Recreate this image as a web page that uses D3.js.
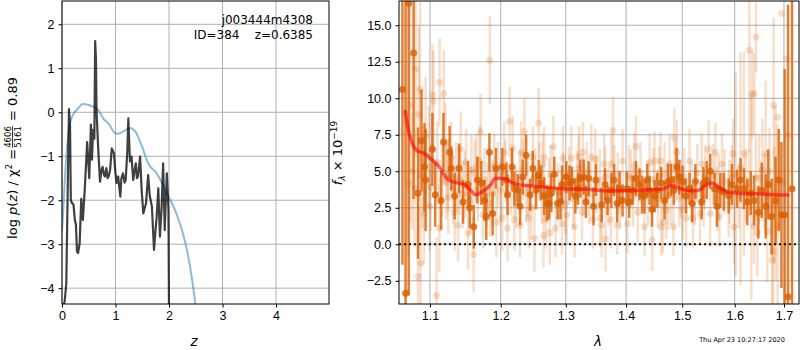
<!DOCTYPE html>
<html>
<head>
<meta charset="utf-8">
<title>zfit</title>
<script src="https://cdn.jsdelivr.net/npm/d3@7"></script>
<style>
  body { margin: 0; background: #fff; }
  svg { display: block; font-family: "DejaVu Sans", sans-serif; }
  .grid line { stroke: #b0b0b0; stroke-width: 1; }
  .tick text { font-size: 12.5px; fill: #000; }
  .tick line { stroke: #000; }
  .domain { display: none; }
</style>
</head>
<body>
<script>
// ---- left panel: p(z) ----
const pzZ = [0.03,0.05,0.08,0.11,0.13,0.15,0.165,0.19,0.215,0.24,0.26,0.28,0.30,0.33,0.36,0.39,0.43,0.47,0.51,0.54,0.56,0.58,0.605,0.62,0.635,0.645,0.675,0.71,0.74,0.76,0.78,0.80,0.83,0.85,0.875,0.90,0.93,0.97,1.00,1.02,1.05,1.07,1.09,1.11,1.14,1.17,1.19,1.22,1.24,1.27,1.30,1.33,1.36,1.38,1.40,1.42,1.46,1.49,1.52,1.57,1.61,1.64,1.68,1.72,1.74,1.77,1.80,1.83,1.86,1.89,1.92,1.94,1.96,1.99,2.00];
const pzLog = [-4.4,-4.3,-3.9,-1.5,0.07,-0.3,-2.0,-2.07,-2.1,-2.45,-2.55,-3.17,-3.2,-2.98,-1.97,-2.45,-1.65,-0.68,-1.5,-0.28,-1.08,-0.4,-0.6,1.62,1.2,0.05,-0.78,-1.58,-1.3,-1.24,-1.4,-1.46,-1.27,-1.5,-1.45,-1.3,-0.82,-0.93,-1.4,-1.61,-1.46,-1.7,-1.92,-1.5,-1.39,-1.6,-1.54,-0.9,-0.14,-1.12,-1.01,-1.54,-1.3,-1.16,-1.5,-1.46,-1.01,-1.8,-2.3,-2.07,-1.43,-1.9,-2.14,-3.13,-2.8,-2.37,-1.73,-2.83,-2.22,-1.16,-2.68,-2.0,-1.39,-2.22,-4.6];
const chiZ = [0.0,0.02,0.05,0.08,0.12,0.16,0.21,0.30,0.39,0.49,0.61,0.68,0.77,0.89,0.95,1.02,1.11,1.20,1.27,1.36,1.49,1.61,1.77,1.96,2.11,2.24,2.36,2.49,2.55];
const chiLog = [-2.7,-2.3,-1.6,-1.0,-0.5,-0.2,-0.05,0.09,0.19,0.17,0.11,0.05,-0.14,-0.29,-0.42,-0.49,-0.46,-0.40,-0.36,-0.42,-0.76,-1.16,-1.39,-1.84,-2.22,-2.67,-3.28,-4.34,-5.0];
const zTicks = [0, 1, 2, 3, 4];
const pzTicks = [-4, -3, -2, -1, 0, 1, 2];

// ---- right panel: spectrum ----
const darkWave = [1.0634,1.0675,1.0716,1.0781,1.084,1.0886,1.0927,1.0941,1.1033,1.1071,1.1151,1.1184,1.1269,1.1293,1.1339,1.14,1.1457,1.1527,1.1551,1.1608,1.166,1.1717,1.1764,1.1788,1.1834,1.1881,1.1929,1.2024,1.2085,1.2101,1.2168,1.2203,1.2253,1.229,1.2329,1.2381,1.2442,1.2482,1.2533,1.2573,1.261,1.266,1.2701,1.2736,1.2771,1.2817,1.2869,1.2915,1.2939,1.3007,1.306,1.3098,1.3153,1.3195,1.3235,1.3288,1.3326,1.337,1.3451,1.3489,1.3586,1.3642,1.3684,1.3749,1.3793,1.3847,1.3886,1.394,1.4011,1.4054,1.4113,1.4171,1.4232,1.4279,1.4321,1.4368,1.4411,1.4452,1.45,1.4546,1.4618,1.4679,1.4738,1.4797,1.4845,1.4898,1.4946,1.5006,1.507,1.5136,1.5187,1.5246,1.5363,1.5396,1.546,1.5526,1.561,1.5655,1.5721,1.5786,1.5883,1.5947,1.6047,1.6116,1.6183,1.625,1.6319,1.6385,1.6473,1.6541,1.6622,1.6675,1.6744,1.6825,1.6892,1.6947,1.7015,1.7085,1.717];
const darkFlux = [10.6,-3.36,16.5,13.1,3.5,7.1,5.3,4.4,6.5,3.4,3.0,7.0,6.3,5.2,3.3,5.2,2.9,4.1,2.5,1.2,4.4,4.2,3.0,1.9,6.3,2.1,5.2,5.3,4.4,3.4,5.3,3.8,3.7,2.6,4.6,6.1,3.4,5.2,3.7,4.7,4.2,3.3,2.8,2.8,3.5,4.8,2.8,2.9,4.1,4.6,4.2,4.3,3.3,3.8,4.5,4.6,2.9,4.5,2.6,4.4,2.7,4.1,3.0,3.7,4.4,2.8,3.8,3.0,3.8,2.9,3.7,4.5,4.1,3.4,3.3,4.4,3.7,2.4,3.3,3.7,4.2,3.0,4.3,4.4,3.7,5.3,4.6,4.3,3.3,3.8,2.8,4.3,2.9,4.2,4.4,5.0,3.8,2.6,3.7,3.6,3.3,4.1,3.8,4.4,3.8,2.9,3.5,3.0,2.2,3.7,2.6,4.1,1.9,3.0,4.4,2.0,2.0,-3.6,3.8];
const darkErr = [12,20,20,10,4.5,3.5,3,3.5,2.5,2.2,2,2,1.8,1.5,1.6,1.7,1.5,1.6,1.4,1.5,1.6,1.5,1.4,1.6,1.3,1.5,1.4,1.3,1.2,1.4,1.3,1.2,1.1,1.3,1.2,1.4,1.1,1.2,1.3,1.1,1.2,1.3,1.2,1.1,1.3,1.2,1.1,1.2,1.3,1.1,1.2,1.0,1.2,1.1,1.3,1.2,1.1,1.2,1.3,1.1,1.2,1.1,1.0,1.2,1.1,1.3,1.2,1.1,1.2,1.1,1.0,1.2,1.1,1.3,1.2,1.1,1.0,1.2,1.1,1.2,1.1,1.3,1.2,1.1,1.0,1.3,1.2,1.1,1.2,1.1,1.3,1.2,1.2,1.1,1.3,1.2,1.1,1.4,1.2,1.3,1.2,1.4,1.3,1.5,1.4,1.6,1.5,1.7,1.8,1.9,2.2,2.4,2.6,3.0,3.5,5,10,20,13];

const lightWave = [1.0713,1.0736,1.0765,1.0795,1.0808,1.084,1.0849,1.0866,1.0873,1.09,1.0918,1.0941,1.0986,1.0996,1.101,1.1033,1.1047,1.1089,1.11,1.1127,1.1131,1.1165,1.1188,1.1212,1.1222,1.1245,1.125,1.129,1.1315,1.1339,1.136,1.1386,1.141,1.1424,1.145,1.1481,1.15,1.1527,1.156,1.1575,1.1608,1.162,1.1646,1.1669,1.1693,1.1707,1.174,1.176,1.1796,1.1834,1.1839,1.1844,1.188,1.1905,1.1937,1.196,1.2,1.2024,1.205,1.207,1.2101,1.2131,1.215,1.2177,1.2203,1.223,1.2279,1.229,1.2305,1.233,1.2355,1.238,1.2406,1.2421,1.2457,1.2482,1.2508,1.252,1.2573,1.2584,1.262,1.2634,1.2649,1.266,1.2686,1.2736,1.2747,1.276,1.2802,1.2838,1.288,1.2939,1.2954,1.2962,1.2991,1.3016,1.305,1.3088,1.312,1.3141,1.318,1.3207,1.3212,1.3261,1.3277,1.3288,1.3342,1.338,1.3414,1.344,1.3479,1.35,1.3555,1.356,1.3586,1.3629,1.3642,1.3651,1.37,1.3739,1.3748,1.3777,1.38,1.3847,1.3858,1.39,1.394,1.4023,1.405,1.4082,1.412,1.4143,1.4171,1.4202,1.425,1.4321,1.438,1.4411,1.4457,1.448,1.45,1.4557,1.458,1.4607,1.4618,1.4648,1.468,1.4708,1.4738,1.4768,1.479,1.4839,1.4857,1.488,1.4903,1.495,1.4975,1.5006,1.504,1.507,1.5136,1.517,1.5201,1.5234,1.528,1.5331,1.5363,1.54,1.5429,1.5495,1.5526,1.558,1.5626,1.566,1.5689,1.5702,1.5753,1.58,1.5883,1.59,1.5947,1.5969,1.5983,1.602,1.608,1.6116,1.6183,1.622,1.6285,1.629,1.633,1.6345,1.6385,1.6392,1.642,1.6426,1.6452,1.6487,1.6554,1.66,1.6622,1.6655,1.67,1.6753,1.6775,1.6786,1.68,1.6825,1.6868,1.6878,1.6947,1.698,1.7055,1.7099];
const lightFlux = [4.2,9.5,5.0,3.8,12.0,-2.2,8.9,10.6,-1.3,4.6,2.1,7.4,6.0,2.6,3.9,10.2,9.8,-3.5,5.6,1.1,11.1,4.4,10.3,6.9,4.2,4.7,3.2,5.9,3.8,2.2,4.6,1.3,4.4,6.5,3.4,4.1,5.6,0.75,3.0,5.1,-0.7,4.9,5.3,3.8,5.7,7.7,2.0,4.4,3.4,3.9,12.6,2.8,3.5,5.4,1.5,4.8,3.7,1.8,6.3,5.0,1.1,8.4,4.1,6.6,1.7,3.2,4.4,1.3,6.3,5.1,7.7,3.5,3.9,1.8,2.5,6.0,0.4,4.6,8.3,5.0,3.4,5.5,0.6,5.95,1.7,3.9,0.8,4.8,6.7,1.1,3.6,1.4,5.9,4.3,2.8,2.0,4.7,5.9,3.1,1.2,4.4,5.2,6.0,2.2,6.3,3.9,4.9,3.4,6.0,1.7,5.8,4.1,4.4,1.8,1.3,5.5,4.6,0.35,3.3,1.7,5.5,7.8,4.8,1.3,4.2,3.0,5.7,1.4,4.7,4.5,3.2,5.4,6.7,2.2,4.9,1.2,3.5,5.6,0.3,4.4,5.7,3.1,4.6,5.7,1.2,1.5,4.8,2.35,3.3,5.5,3.4,1.2,7.3,5.0,6.3,3.2,3.8,2.35,4.6,1.8,5.7,3.6,1.8,3.3,4.9,2.1,5.5,3.2,4.6,6.5,2.1,4.8,6.3,3.1,3.9,1.9,5.5,4.3,2.8,3.6,4.6,6.2,1.2,4.8,3.3,5.2,6.2,4.0,4.2,13.3,3.2,10.3,1.25,10.3,4.6,14.2,0.8,4.5,5.1,3.6,6.2,0.9,5.0,-1.1,-0.5,9.5,2.7,3.5,1.2,8.7,15.8,4.3,12.7,7.5];
const lightErr = [5,8,4,4,6,5,6,6,4.5,3.5,3.5,4,3.5,3,3,3.5,3.5,4,2.8,3,3,2.5,3,2.8,2.5,2.5,2.5,2.5,2.4,2.6,2.4,2.5,2.4,2.6,2.3,2.3,2.3,2.5,2.3,2.4,2.6,2.2,2.3,2.2,2.4,2.6,2.3,2.2,2.2,2.2,3,2.3,2.3,2.2,2.4,2.2,2.2,2.2,2.1,2.1,2.3,2.4,2.1,2.2,2.1,2.1,2,2.2,2.1,2.1,2.3,2,2,2.1,2.2,2.1,2.3,2,2.4,2,2,2.1,2.2,2.1,2,2,2.2,2,2.1,2,2,2.1,2.2,2,2.1,2,2,2.2,2,2.1,2,2.2,2.1,2,2.1,2,2.1,2,2.2,2,2.1,2,2.1,2,2.2,2,2.1,2.2,2,2,2.1,2.3,2,2,2.1,2,2.2,2,2.1,2,2,2.2,2.1,2,2.1,2,2.2,2,2.1,2.2,2,2,2.1,2,2,2.1,2.2,2,2.3,2,2.1,2,2,2.1,2.2,2,2,2.1,2,2,2.2,2,2.1,2,2,2.2,2.1,2,2.2,2,2.3,2.1,2,2.2,2.3,2.1,2.1,2.2,2.3,2.2,2.2,2.4,2.5,7,2.2,8,7,2.5,2.3,7,7,3,2.6,2.8,3,2.4,3,3,3.5,2.6,5,3.5,3,4,5,6,4,6,7];

const modelWave = [1.0671,1.0703,1.0749,1.0818,1.0932,1.1,1.1141,1.1212,1.1307,1.1471,1.1566,1.1636,1.1731,1.1848,1.1919,1.204,1.2142,1.2244,1.2447,1.27,1.2954,1.333,1.3658,1.3928,1.4339,1.4636,1.4786,1.4904,1.5123,1.5285,1.5449,1.5566,1.5675,1.5839,1.6101,1.6507,1.6845,1.7085];
const modelFlux = [9.1,8.05,7.1,6.45,6.2,5.9,5.2,4.6,4.3,4.1,3.7,3.4,3.6,4.05,4.5,4.5,4.3,4.1,4.0,3.9,3.8,3.77,3.67,3.67,3.72,3.77,4.0,3.9,3.67,3.67,4.06,4.2,3.95,3.6,3.5,3.45,3.38,3.38];
const waveTicks = [1.1, 1.2, 1.3, 1.4, 1.5, 1.6, 1.7];
const fluxTicks = [-2.5, 0, 2.5, 5, 7.5, 10, 12.5, 15];

const W = 800, H = 350;
const svg = d3.select("body").append("svg").attr("width", W).attr("height", H);
svg.append("rect").attr("width", W).attr("height", H).attr("fill", "#fff");

// ========== left panel ==========
const L = {x0: 62, x1: 329, y0: 1, y1: 304};
const zx = d3.scaleLinear().domain([0, 4.99]).range([L.x0, L.x1]);
const zy = d3.scaleLinear().domain([-4.36, 2.53]).range([L.y1, L.y0]);

svg.append("clipPath").attr("id", "clipL").append("rect")
    .attr("x", L.x0).attr("y", L.y0).attr("width", L.x1 - L.x0).attr("height", L.y1 - L.y0);

const gl = svg.append("g").attr("class", "grid");
gl.selectAll(".gx").data(zTicks).enter().append("line")
    .attr("x1", d => zx(d)).attr("x2", d => zx(d)).attr("y1", L.y0).attr("y2", L.y1);
gl.selectAll(".gy").data(pzTicks).enter().append("line")
    .attr("y1", d => zy(d)).attr("y2", d => zy(d)).attr("x1", L.x0).attr("x2", L.x1);

const lineL = svg.append("g").attr("clip-path", "url(#clipL)");
lineL.append("path")
    .datum(chiZ.map((z, i) => [z, chiLog[i]]))
    .attr("fill", "none").attr("stroke", "#1f77b4").attr("stroke-opacity", 0.5).attr("stroke-width", 2)
    .attr("d", d3.line().x(d => zx(d[0])).y(d => zy(d[1])).curve(d3.curveMonotoneX));
lineL.append("path")
    .datum(pzZ.map((z, i) => [z, pzLog[i]]))
    .attr("fill", "none").attr("stroke", "#000").attr("stroke-opacity", 0.75).attr("stroke-width", 2.2)
    .attr("stroke-linejoin", "round")
    .attr("d", d3.line().x(d => zx(d[0])).y(d => zy(d[1])));

svg.append("g").attr("transform", `translate(0,${L.y1})`)
    .call(d3.axisBottom(zx).tickValues(zTicks).tickFormat(d3.format("d")).tickSizeOuter(0).tickSize(3.5).tickPadding(4));
svg.append("g").attr("transform", `translate(${L.x0},0)`)
    .call(d3.axisLeft(zy).tickValues(pzTicks).tickFormat(d3.format("d")).tickSizeOuter(0).tickSize(3.5).tickPadding(4));
svg.append("rect").attr("x", L.x0).attr("y", L.y0).attr("width", L.x1 - L.x0).attr("height", L.y1 - L.y0)
    .attr("fill", "none").attr("stroke", "#000").attr("stroke-width", 1);

svg.append("text").attr("x", 313).attr("y", 24).attr("text-anchor", "end").attr("font-size", 12)
    .text("j003444m4308");
svg.append("text").attr("x", 313).attr("y", 39).attr("text-anchor", "end").attr("font-size", 12)
    .attr("xml:space", "preserve").style("white-space", "pre")
    .text("ID=384    z=0.6385");

svg.append("text").attr("x", zx(2.47)).attr("y", 346).attr("text-anchor", "middle")
    .attr("font-size", 13.5).attr("font-style", "italic").text("z");

// rotated y label with stacked fraction
const ylab = svg.append("g").attr("transform", "translate(17,158) rotate(-90)");
const t1 = ylab.append("text").attr("font-size", 13);
t1.append("tspan").text("log ");
t1.append("tspan").attr("font-style", "italic").text("p");
t1.append("tspan").text("(");
t1.append("tspan").attr("font-style", "italic").text("z");
t1.append("tspan").text(") / χ");
t1.append("tspan").attr("font-size", 9).attr("dy", -5).text("2");
t1.append("tspan").attr("dy", 5).text(" = ");
const w1 = t1.node().getComputedTextLength();
const num = ylab.append("text").attr("font-size", 8.5).attr("text-anchor", "middle").text("4606");
const den = ylab.append("text").attr("font-size", 8.5).attr("text-anchor", "middle").text("5161");
const wf = Math.max(num.node().getComputedTextLength(), den.node().getComputedTextLength());
const t3 = ylab.append("text").attr("font-size", 13).attr("xml:space", "preserve").text(" = 0.89");
const w3 = t3.node().getComputedTextLength();
const total = w1 + wf + 2 + w3;
const s = -total / 2;
t1.attr("x", s);
num.attr("x", s + w1 + wf / 2 + 1).attr("y", -6);
den.attr("x", s + w1 + wf / 2 + 1).attr("y", 4);
ylab.append("line").attr("x1", s + w1 + 1).attr("x2", s + w1 + wf + 1).attr("y1", -4.5).attr("y2", -4.5)
    .attr("stroke", "#000").attr("stroke-width", 0.8);
t3.attr("x", s + w1 + wf + 2);

// ========== right panel ==========
const R = {x0: 399, x1: 799, y0: 1, y1: 304};
const wx = d3.scaleLog().domain([1.0589, 1.7317]).range([R.x0, R.x1]);
const fy = d3.scaleLinear().domain([-4.09, 16.66]).range([R.y1, R.y0]);

svg.append("clipPath").attr("id", "clipR").append("rect")
    .attr("x", R.x0).attr("y", R.y0).attr("width", R.x1 - R.x0).attr("height", R.y1 - R.y0);

const gr = svg.append("g").attr("class", "grid");
gr.selectAll(".gx").data(waveTicks).enter().append("line")
    .attr("x1", d => wx(d)).attr("x2", d => wx(d)).attr("y1", R.y0).attr("y2", R.y1);
gr.selectAll(".gy").data(fluxTicks).enter().append("line")
    .attr("y1", d => fy(d)).attr("y2", d => fy(d)).attr("x1", R.x0).attr("x2", R.x1);

const plot = svg.append("g").attr("clip-path", "url(#clipR)");
const orange = "#d95f02";

const light = lightWave.map((w, i) => ({w, f: lightFlux[i], e: lightErr[i]}));
const dark = darkWave.map((w, i) => ({w, f: darkFlux[i], e: darkErr[i]}));

const lg = plot.append("g");
lg.selectAll("line").data(light).enter().append("line")
    .attr("x1", d => wx(d.w)).attr("x2", d => wx(d.w))
    .attr("y1", d => fy(d.f - d.e)).attr("y2", d => fy(d.f + d.e))
    .attr("stroke", orange).attr("stroke-opacity", 0.2).attr("stroke-width", 2.5);
lg.selectAll("circle").data(light).enter().append("circle")
    .attr("cx", d => wx(d.w)).attr("cy", d => fy(d.f)).attr("r", 3.5)
    .attr("fill", orange).attr("fill-opacity", 0.2);

const dg = plot.append("g");
dg.selectAll("line").data(dark).enter().append("line")
    .attr("x1", d => wx(d.w)).attr("x2", d => wx(d.w))
    .attr("y1", d => fy(d.f - d.e)).attr("y2", d => fy(d.f + d.e))
    .attr("stroke", orange).attr("stroke-opacity", 0.8).attr("stroke-width", 2.5);
dg.selectAll("circle").data(dark).enter().append("circle")
    .attr("cx", d => wx(d.w)).attr("cy", d => fy(d.f)).attr("r", 3.5)
    .attr("fill", orange).attr("fill-opacity", 0.8);

plot.append("line").attr("x1", R.x0).attr("x2", R.x1).attr("y1", fy(0)).attr("y2", fy(0))
    .attr("stroke", "#111").attr("stroke-width", 2).attr("stroke-dasharray", "2,3");

plot.append("path")
    .datum(modelWave.map((w, i) => [w, modelFlux[i]]))
    .attr("fill", "none").attr("stroke", "#ff0000").attr("stroke-opacity", 0.6).attr("stroke-width", 3.5)
    .attr("stroke-linecap", "round")
    .attr("d", d3.line().x(d => wx(d[0])).y(d => fy(d[1])).curve(d3.curveMonotoneX));

svg.append("g").attr("transform", `translate(0,${R.y1})`)
    .call(d3.axisBottom(wx).tickValues(waveTicks).tickFormat(d3.format(".1f")).tickSizeOuter(0).tickSize(3.5).tickPadding(4));
svg.append("g").attr("transform", `translate(${R.x0},0)`)
    .call(d3.axisLeft(fy).tickValues(fluxTicks).tickFormat(d3.format(".1f")).tickSizeOuter(0).tickSize(3.5).tickPadding(4));
svg.append("rect").attr("x", R.x0).attr("y", R.y0).attr("width", R.x1 - R.x0).attr("height", R.y1 - R.y0)
    .attr("fill", "none").attr("stroke", "#000").attr("stroke-width", 1);

svg.append("text").attr("x", 598).attr("y", 346).attr("text-anchor", "middle")
    .attr("font-size", 13.5).attr("font-style", "italic").text("λ");

const rl = svg.append("text").attr("transform", "translate(342,153) rotate(-90)")
    .attr("text-anchor", "middle").attr("font-size", 13);
rl.append("tspan").attr("font-style", "italic").text("f");
rl.append("tspan").attr("font-size", 9).attr("font-style", "italic").attr("dy", 3).text("λ");
rl.append("tspan").attr("dy", -3).text(" × 10");
rl.append("tspan").attr("font-size", 9).attr("dy", -5).text("−19");

svg.append("text").attr("x", 742).attr("y", 342).attr("text-anchor", "middle").attr("font-size", 6.5)
    .text("Thu Apr 23 10:27:17 2020");
</script>
</body>
</html>
